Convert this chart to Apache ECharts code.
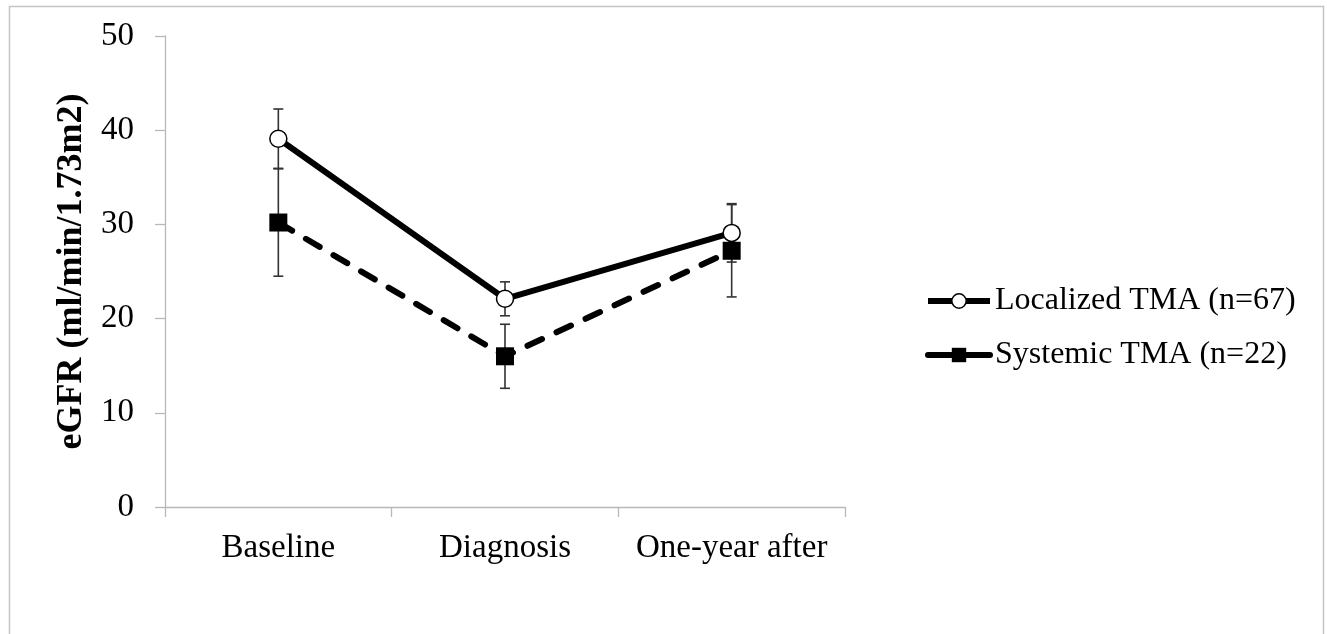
<!DOCTYPE html>
<html>
<head>
<meta charset="utf-8">
<script src="https://cdn.jsdelivr.net/npm/echarts@6/dist/echarts.min.js"></script>
<style>
html,body{margin:0;padding:0;background:#fff;}
#chart{width:1327px;height:634px;}
</style>
</head>
<body>
<div id="chart"></div>
<script>
const categories = ['Baseline', 'Diagnosis', 'One-year after'];
const localizedValues = [39.1, 22.1, 29.1];
const localizedErrors = [3.15, 1.8, 3.1];
const systemicValues = [30.2, 16.0, 27.2];
const systemicErrors = [5.7, 3.4, 4.9];
const yTicks = [0, 10, 20, 30, 40, 50];
const seriesNames = ['Localized TMA (n=67)', 'Systemic TMA (n=22)'];

const FONT = '"Liberation Serif", "DejaVu Serif", serif';

function errData(vals, errs) {
  return vals.map((v, i) => [i, v - errs[i], v + errs[i]]);
}
function errRender(params, api) {
  const x = api.value(0);
  const lo = api.coord([x, api.value(1)]);
  const hi = api.coord([x, api.value(2)]);
  const w = 5;
  const st = { stroke: '#333', lineWidth: 1.6 };
  return {
    type: 'group',
    children: [
      { type: 'line', shape: { x1: lo[0], y1: lo[1], x2: hi[0], y2: hi[1] }, style: st },
      { type: 'line', shape: { x1: lo[0] - w, y1: lo[1], x2: lo[0] + w, y2: lo[1] }, style: st },
      { type: 'line', shape: { x1: hi[0] - w, y1: hi[1], x2: hi[0] + w, y2: hi[1] }, style: st }
    ]
  };
}

const chart = echarts.init(document.getElementById('chart'));
chart.setOption({
  animation: false,
  backgroundColor: '#fff',
  graphic: [{
    type: 'rect',
    shape: { x: 9.5, y: 6.5, width: 1314, height: 640 },
    style: { fill: 'none', stroke: '#c4c4c4', lineWidth: 1.5 },
    silent: true, z: -10
  }],
  grid: { left: 165, right: 482, top: 36, bottom: 127, containLabel: false },
  xAxis: {
    type: 'category',
    data: categories,
    boundaryGap: true,
    axisLine: { lineStyle: { color: '#b8b8b8', width: 1.3 } },
    axisTick: { show: true, length: 10, interval: 0, alignWithLabel: false, lineStyle: { color: '#b8b8b8', width: 1.3 } },
    axisLabel: { color: '#000', fontFamily: FONT, fontSize: 33, margin: 25, interval: 0 },
    splitLine: { show: false }
  },
  yAxis: {
    type: 'value',
    min: yTicks[0],
    max: yTicks[yTicks.length - 1],
    interval: 10,
    name: 'eGFR (ml/min/1.73m2)',
    nameLocation: 'middle',
    nameGap: 48,
    nameRotate: 90,
    nameTextStyle: { color: '#000', fontFamily: FONT, fontSize: 36, fontWeight: 'bold' },
    axisLine: { show: true, lineStyle: { color: '#b8b8b8', width: 1.3 } },
    axisTick: { show: true, length: 10, lineStyle: { color: '#b8b8b8', width: 1.3 } },
    axisLabel: { color: '#000', fontFamily: FONT, fontSize: 33, margin: 31 },
    splitLine: { show: false }
  },
  legend: {
    orient: 'vertical',
    left: 925,
    top: 285,
    padding: 0,
    itemWidth: 62,
    itemHeight: 18,
    itemGap: 22,
    textStyle: { color: '#000', fontFamily: FONT, fontSize: 32 },
    data: [
      {
        name: seriesNames[0],
        lineStyle: { type: 'solid', width: 6, color: '#000' },
        itemStyle: { color: '#fff', borderColor: '#000', borderWidth: 1.5, borderType: 'solid' }
      },
      {
        name: seriesNames[1],
        lineStyle: { type: 'solid', width: 6, color: '#000' },
        itemStyle: { color: '#000', borderColor: '#000', borderWidth: 0 }
      }
    ]
  },
  series: [
    {
      name: seriesNames[0],
      type: 'line',
      data: localizedValues,
      symbol: 'circle',
      symbolSize: 17,
      lineStyle: { color: '#000', width: 6, type: 'solid' },
      itemStyle: { color: '#fff', borderColor: '#000', borderWidth: 1.5 },
      z: 4
    },
    {
      name: seriesNames[1],
      type: 'line',
      data: systemicValues,
      symbol: 'rect',
      symbolSize: 18,
      lineStyle: { color: '#000', width: 6, type: [16, 16], cap: 'round' },
      itemStyle: { color: '#000', borderColor: '#000', borderWidth: 0 },
      z: 3
    },
    {
      type: 'custom',
      name: 'errL',
      renderItem: errRender,
      data: errData(localizedValues, localizedErrors),
      z: 1,
      silent: true
    },
    {
      type: 'custom',
      name: 'errS',
      renderItem: errRender,
      data: errData(systemicValues, systemicErrors),
      z: 1,
      silent: true
    }
  ]
});
</script>
</body>
</html>
